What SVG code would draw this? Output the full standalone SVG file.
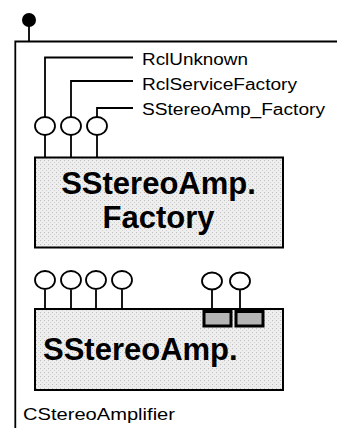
<svg xmlns="http://www.w3.org/2000/svg" width="337" height="428" viewBox="0 0 337 428">
<defs>
<pattern id="stip" width="4" height="4" patternUnits="userSpaceOnUse">
<rect width="4" height="4" fill="#eeeeee"/>
<rect x="0" y="0" width="1" height="1" fill="#bdbdbd"/>
<rect x="2" y="2" width="1" height="1" fill="#d0d0d0"/>
</pattern>
</defs>
<style>
.ln{stroke:#000;stroke-width:1.8;fill:none}
.lb{font-family:"Liberation Sans",Arial,sans-serif;font-size:16px;fill:#000}
.big{font-family:"Liberation Sans",Arial,sans-serif;font-size:31px;font-weight:bold;fill:#000}
.box{fill:url(#stip);stroke:#000;stroke-width:2}
.lol{fill:#fff;stroke:#000;stroke-width:1.8}
.port{fill:#b5b5b5;stroke:#000;stroke-width:3}
</style>
<rect width="337" height="428" fill="#fff"/>
<g id="frame">
<circle cx="29" cy="20" r="7" fill="#000"/>
<path class="ln" d="M29 20V41.5M15.3 428V41.5H337"/>
<text class="lb" x="23" y="420" textLength="152" lengthAdjust="spacingAndGlyphs" style="font-size:17px">CStereoAmplifier</text>
</g>
<g id="connectors">
<path class="ln" d="M133 57.5H45V117M133 81H71V117M133 108H97V117"/>
<path class="ln" d="M45 135V157.5M71 135V157.5M97 135V157.5"/>
<path class="ln" d="M45 290V309M71 290V309M96 290V309M122 290V309M212 290V311M240 290V311"/>
</g>
<g id="labels">
<text class="lb" x="142" y="65" textLength="106" lengthAdjust="spacingAndGlyphs">RclUnknown</text>
<text class="lb" x="142" y="90" textLength="155" lengthAdjust="spacingAndGlyphs">RclServiceFactory</text>
<text class="lb" x="142" y="115" textLength="183" lengthAdjust="spacingAndGlyphs">SStereoAmp_Factory</text>
</g>
<g id="factory">
<ellipse class="lol" cx="45" cy="126" rx="10" ry="9"/>
<ellipse class="lol" cx="71" cy="126" rx="10" ry="9"/>
<ellipse class="lol" cx="97" cy="126" rx="10" ry="9"/>
<rect class="box" x="35" y="157.5" width="248" height="90"/>
<text class="big" x="158.5" y="194" text-anchor="middle">SStereoAmp.</text>
<text class="big" x="158.5" y="228" text-anchor="middle">Factory</text>
</g>
<g id="amp">
<ellipse class="lol" cx="45" cy="280" rx="10" ry="9"/>
<ellipse class="lol" cx="71" cy="280" rx="10" ry="9"/>
<ellipse class="lol" cx="96" cy="280" rx="10" ry="9"/>
<ellipse class="lol" cx="122" cy="280" rx="10" ry="9"/>
<ellipse class="lol" cx="212" cy="281" rx="10" ry="8.5"/>
<ellipse class="lol" cx="240" cy="281" rx="10" ry="8.5"/>
<rect class="box" x="35" y="309" width="248" height="81"/>
<rect class="port" x="204" y="311.5" width="27" height="14.5"/>
<rect class="port" x="236" y="311.5" width="27" height="14.5"/>
<text class="big" x="43" y="360">SStereoAmp.</text>
</g>
</svg>
